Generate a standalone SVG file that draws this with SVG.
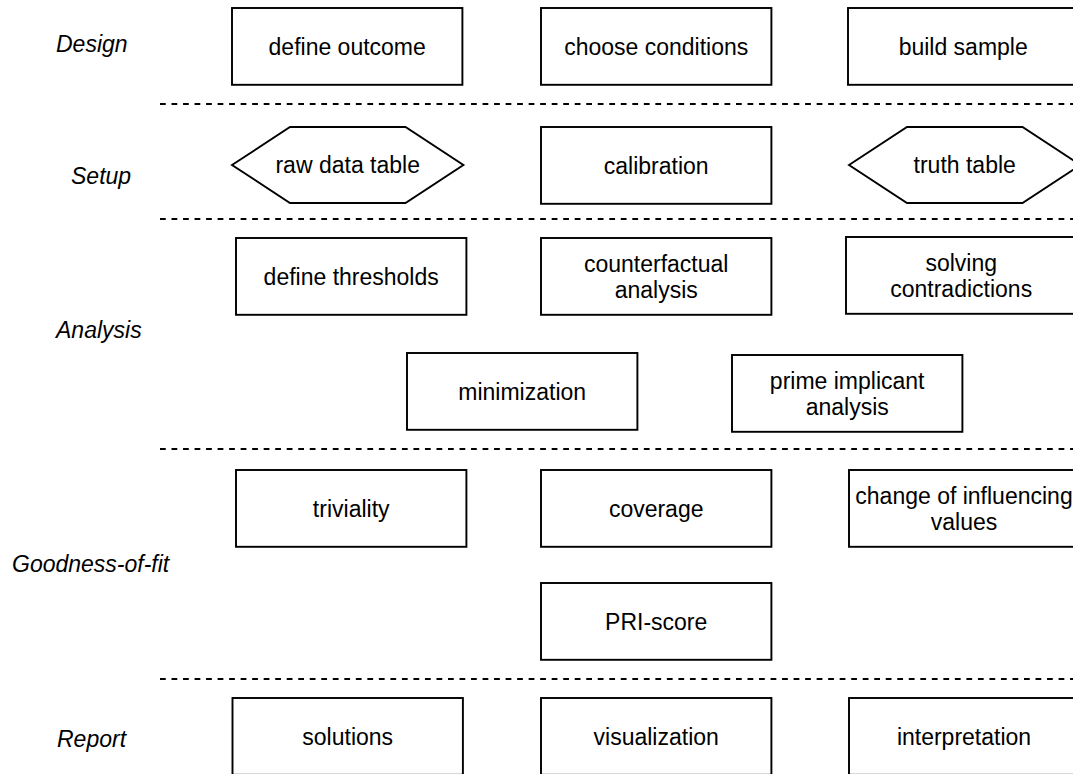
<svg xmlns="http://www.w3.org/2000/svg" width="1073" height="774" viewBox="0 0 1073 774">
<style>
.box{fill:#fff;stroke:#000;stroke-width:1.92}
.t{font-family:"Liberation Sans",Arial,sans-serif;font-size:23px;fill:#000;text-anchor:middle}
.lbl{font-family:"Liberation Sans",Arial,sans-serif;font-size:23px;font-style:italic;fill:#000}
.sep{stroke:#000;stroke-width:1.92;stroke-dasharray:5.76 5.76;fill:none}
</style>
<rect width="1073" height="774" fill="#fff"/>
<g id="separators">
<line class="sep" x1="160" y1="104" x2="1073" y2="104"/>
<line class="sep" x1="160" y1="219" x2="1073" y2="219"/>
<line class="sep" x1="160" y1="449" x2="1073" y2="449"/>
<line class="sep" x1="160" y1="679" x2="1073" y2="679"/>
</g>
<g id="labels">
<text class="lbl" x="56" y="52">Design</text>
<text class="lbl" x="71" y="184">Setup</text>
<text class="lbl" x="56" y="338">Analysis</text>
<text class="lbl" x="12" y="572">Goodness-of-fit</text>
<text class="lbl" x="57" y="747">Report</text>
</g>
<g id="define-outcome"><rect class="box" x="232" y="8" width="230.4" height="76.8"/><text class="t" x="347.2" y="54.5">define outcome</text></g>
<g id="choose-conditions"><rect class="box" x="541" y="8" width="230.4" height="76.8"/><text class="t" x="656.2" y="54.5">choose conditions</text></g>
<g id="build-sample"><rect class="box" x="848" y="8" width="230.4" height="76.8"/><text class="t" x="963.2" y="54.5">build sample</text></g>

<g id="raw-data-table"><polygon class="box" points="232,165 290,127 405.5,127 463.4,165 405.5,203 290,203"/><text class="t" x="347.7" y="173">raw data table</text></g>
<g id="calibration"><rect class="box" x="541" y="127" width="230.4" height="76.8"/><text class="t" x="656.2" y="173.5">calibration</text></g>
<g id="truth-table"><polygon class="box" points="849,165 907,127 1022.5,127 1080.4,165 1022.5,203 907,203"/><text class="t" x="964.7" y="173">truth table</text></g>

<g id="define-thresholds"><rect class="box" x="236" y="238" width="230.4" height="76.8"/><text class="t" x="351.2" y="284.5">define thresholds</text></g>
<g id="counterfactual-analysis"><rect class="box" x="541" y="238" width="230.4" height="76.8"/><text class="t" x="656.2" y="271.5">counterfactual<tspan x="656.2" dy="26">analysis</tspan></text></g>
<g id="solving-contradictions"><rect class="box" x="846" y="237" width="230.4" height="76.8"/><text class="t" x="961.2" y="270.5">solving<tspan x="961.2" dy="26">contradictions</tspan></text></g>
<g id="minimization"><rect class="box" x="407" y="353" width="230.4" height="76.8"/><text class="t" x="522.2" y="399.5">minimization</text></g>
<g id="prime-implicant-analysis"><rect class="box" x="732" y="355" width="230.4" height="76.8"/><text class="t" x="847.2" y="388.5">prime implicant<tspan x="847.2" dy="26">analysis</tspan></text></g>

<g id="triviality"><rect class="box" x="236" y="470" width="230.4" height="76.8"/><text class="t" x="351.2" y="516.5">triviality</text></g>
<g id="coverage"><rect class="box" x="541" y="470" width="230.4" height="76.8"/><text class="t" x="656.2" y="516.5">coverage</text></g>
<g id="change-of-influencing-values"><rect class="box" x="849" y="470" width="230.4" height="76.8"/><text class="t" x="964" y="503.5">change of influencing<tspan x="964" dy="26">values</tspan></text></g>
<g id="pri-score"><rect class="box" x="541" y="583" width="230.4" height="76.8"/><text class="t" x="656.2" y="629.5">PRI-score</text></g>

<g id="solutions"><rect class="box" x="232.5" y="698" width="230.4" height="76.8"/><text class="t" x="347.7" y="744.5">solutions</text></g>
<g id="visualization"><rect class="box" x="541" y="698" width="230.4" height="76.8"/><text class="t" x="656.2" y="744.5">visualization</text></g>
<g id="interpretation"><rect class="box" x="849" y="698" width="230.4" height="76.8"/><text class="t" x="964" y="744.5">interpretation</text></g>
</svg>
